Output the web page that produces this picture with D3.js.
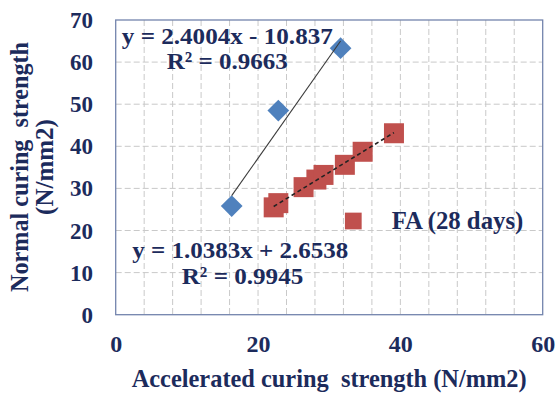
<!DOCTYPE html>
<html>
<head>
<meta charset="utf-8">
<script src="https://cdn.jsdelivr.net/npm/d3@7"></script>
<style>
  html, body { margin: 0; padding: 0; background: #ffffff; }
  svg { display: block; }
  text { font-family: "Times New Roman", Times, "Liberation Serif", serif; font-weight: bold; fill: #1c2b5c; }
</style>
</head>
<body>
<svg id="chart" width="556" height="394"></svg>
<script>
// ---- data ----
const blueX = [16.3, 22.85, 31.6];
const blueY = [25.8, 48.5, 63.3];
const redX = [22.2, 22.85, 26.4, 28.2, 29.2, 32.2, 34.7, 39.1];
const redY = [25.5, 26.5, 30.3, 32.1, 33.2, 35.6, 38.7, 43.1];
const blueFit = [2.4004, -10.837];   // slope, intercept
const redFit = [1.0383, 2.6538];
const xTicks = [0, 20, 40, 60];
const yTicks = [0, 10, 20, 30, 40, 50, 60, 70];
const xGrid = [4, 8, 12, 16, 20, 24, 28, 32, 36, 40, 44, 48, 52, 56];
const yGrid = [10, 20, 30, 40, 50, 60];
const legendLabel = "FA (28 days)";
const blueEq = ["y = 2.4004x - 10.837", "R² = 0.9663"];
const redEq = ["y = 1.0383x + 2.6538", "R² = 0.9945"];
const xTitle = "Accelerated curing  strength (N/mm2)";
const yTitle = ["Normal curing  strength", "(N/mm2)"];

// ---- layout ----
const L = 115.7, R = 542.7, T = 20, B = 314.7;
const FONT = '"Times New Roman", Times, "Liberation Serif", serif';
const svg = d3.select("#chart");
const x = d3.scaleLinear().domain([0, 60]).range([L, R]);
const y = d3.scaleLinear().domain([0, 70]).range([B, T]);

// gridlines
svg.append("g").selectAll("line").data(xGrid).join("line")
  .attr("x1", d => x(d)).attr("x2", d => x(d)).attr("y1", T).attr("y2", B)
  .attr("stroke", "#c9c9c9").attr("stroke-width", 1).attr("stroke-dasharray", "6,3");
svg.append("g").selectAll("line").data(yGrid).join("line")
  .attr("x1", L).attr("x2", R).attr("y1", d => y(d)).attr("y2", d => y(d))
  .attr("stroke", "#c9c9c9").attr("stroke-width", 1).attr("stroke-dasharray", "6,3");

// plot border
svg.append("rect").attr("x", L).attr("y", T).attr("width", R - L).attr("height", B - T)
  .attr("fill", "none").attr("stroke", "#7384ad").attr("stroke-width", 1.3);

// axes (labels only)
const xAxis = d3.axisBottom(x).tickValues(xTicks).tickSize(0).tickPadding(0);
const gx = svg.append("g").attr("transform", `translate(0,${B})`).call(xAxis);
gx.select(".domain").remove();
gx.selectAll("text").attr("y", 37).attr("dy", null)
  .style("font-size", "24px").style("font-family", FONT).style("font-weight", "bold").attr("fill", "#1c2b5c");

const yAxis = d3.axisLeft(y).tickValues(yTicks).tickSize(0).tickPadding(0);
const gy = svg.append("g").attr("transform", `translate(93,0)`).call(yAxis);
gy.select(".domain").remove();
gy.selectAll("text").attr("x", 0).attr("dy", "0.33em")
  .style("font-size", "23px").style("font-family", FONT).style("font-weight", "bold").attr("fill", "#1c2b5c");

// markers
const blueData = blueX.map((v, i) => [v, blueY[i]]);
const redData = redX.map((v, i) => [v, redY[i]]);

svg.append("g").selectAll("path").data(blueData).join("path")
  .attr("d", d3.symbol(d3.symbolSquare, 236)())
  .attr("transform", d => `translate(${x(d[0])},${y(d[1])}) rotate(45)`)
  .attr("fill", "#4f81bd");

svg.append("g").selectAll("path").data(redData).join("path")
  .attr("d", d3.symbol(d3.symbolSquare, 400)())
  .attr("transform", d => `translate(${x(d[0])},${y(d[1])})`)
  .attr("fill", "#c0504d");

// trendlines
function fitLine(xs, fit) {
  const x0 = d3.min(xs), x1 = d3.max(xs);
  return [[x0, fit[0] * x0 + fit[1]], [x1, fit[0] * x1 + fit[1]]];
}
const line = d3.line().x(d => x(d[0])).y(d => y(d[1]));
svg.append("path").attr("d", line(fitLine(blueX, blueFit)))
  .attr("fill", "none").attr("stroke", "#3a3a3a").attr("stroke-width", 1.1);
svg.append("path").attr("d", line(fitLine(redX, redFit)))
  .attr("fill", "none").attr("stroke", "#222222").attr("stroke-width", 1.6).attr("stroke-dasharray", "4,3");

// equation labels
function label(txt, cx, by, w, size) {
  const t = svg.append("text").attr("x", cx).attr("y", by).attr("text-anchor", "middle")
    .style("font-size", size + "px").text(txt);
  if (w) t.attr("textLength", w).attr("lengthAdjust", "spacingAndGlyphs");
  return t;
}
label(blueEq[0], 227.3, 43.5, 211, 24);
label(blueEq[1], 227.3, 69, 121, 24);
label(redEq[0], 240.2, 258.3, 216, 24);
label(redEq[1], 242.5, 283.5, 121.5, 24);

// legend
svg.append("path").attr("d", d3.symbol(d3.symbolSquare, 280)())
  .attr("transform", "translate(353.3,221)").attr("fill", "#c0504d");
svg.append("text").attr("x", 391.7).attr("y", 229.3).style("font-size", "25px")
  .attr("textLength", 131.6).attr("lengthAdjust", "spacingAndGlyphs").text(legendLabel);

// axis titles
svg.append("text").attr("x", (L + R) / 2).attr("y", 387.3).attr("text-anchor", "middle")
  .style("font-size", "25px").style("white-space", "pre")
  .attr("textLength", 395).attr("lengthAdjust", "spacingAndGlyphs").text(xTitle);

svg.append("text").attr("transform", "translate(28.3,167) rotate(-90)").attr("text-anchor", "middle")
  .style("font-size", "25px").style("white-space", "pre")
  .attr("textLength", 250).attr("lengthAdjust", "spacingAndGlyphs").text(yTitle[0]);
svg.append("text").attr("transform", "translate(53,167) rotate(-90)").attr("text-anchor", "middle")
  .style("font-size", "25px").text(yTitle[1]);
</script>
</body>
</html>
